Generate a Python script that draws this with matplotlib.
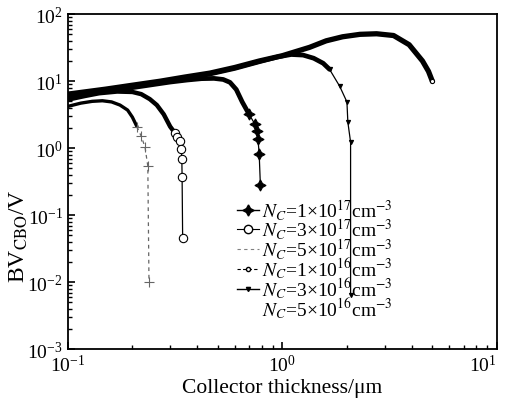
import matplotlib
matplotlib.use("Agg")
import matplotlib.pyplot as plt
from matplotlib.lines import Line2D

# ---- data ----
x_1e16 = [0.1, 0.15, 0.2, 0.27, 0.35, 0.46, 0.6, 0.78, 1.0, 1.34, 1.6, 1.91, 2.3, 2.75, 3.3, 3.9, 4.5, 4.8, 5.0]
y_1e16 = [6.4, 7.6, 8.7, 10.0, 11.5, 13.2, 16.0, 20.0, 24.0, 32.0, 40.0, 46.0, 50.0, 51.0, 48.0, 35.0, 20.0, 14.0, 10.0]

x_3e16 = [0.1, 0.15, 0.2, 0.27, 0.35, 0.46, 0.6, 0.78, 0.95, 1.1, 1.25, 1.4, 1.55, 1.66, 1.85, 2.0, 2.02, 2.08, 2.08]
y_3e16 = [6.2, 7.3, 8.4, 9.7, 11.0, 12.8, 15.5, 19.5, 23.0, 25.0, 24.5, 22.0, 18.5, 15.0, 8.4, 4.9, 2.44, 1.23, 0.0065]

x_1e17 = [0.1, 0.15, 0.2, 0.25, 0.3, 0.36, 0.42, 0.48, 0.53, 0.57, 0.61, 0.65, 0.70, 0.745, 0.76, 0.77, 0.78, 0.79]
y_1e17 = [5.9, 7.0, 8.0, 8.9, 9.7, 10.4, 10.9, 11.0, 10.6, 9.6, 7.5, 4.9, 3.2, 2.28, 1.8, 1.36, 0.81, 0.28]

x_3e17 = [0.1, 0.12, 0.14, 0.17, 0.2, 0.22, 0.241, 0.26, 0.28, 0.30, 0.315, 0.322, 0.333, 0.338, 0.34, 0.341, 0.343]
y_3e17 = [5.3, 6.0, 6.6, 7.0, 6.9, 6.4, 5.4, 4.4, 3.2, 2.1, 1.7, 1.46, 1.27, 0.97, 0.69, 0.37, 0.045]

x_5e17 = [0.1, 0.115, 0.13, 0.145, 0.16, 0.175, 0.19, 0.2, 0.21, 0.22, 0.229, 0.236, 0.239]
y_5e17 = [4.2, 4.7, 5.0, 5.1, 4.9, 4.4, 3.7, 2.9, 2.1, 1.5, 1.04, 0.54, 0.01]

labels = [r"$N_C$=1×10$^{17}$cm$^{-3}$",
          r"$N_C$=3×10$^{17}$cm$^{-3}$",
          r"$N_C$=5×10$^{17}$cm$^{-3}$",
          r"$N_C$=1×10$^{16}$cm$^{-3}$",
          r"$N_C$=3×10$^{16}$cm$^{-3}$",
          r"$N_C$=5×10$^{16}$cm$^{-3}$"]

plt.rcParams["font.family"] = ["Liberation Serif", "DejaVu Serif"]
plt.rcParams["mathtext.fontset"] = "stix"

fig = plt.figure(figsize=(5.06, 4.10), dpi=100)
ax = fig.add_axes([0.134, 0.146, 0.848, 0.817])

star = (4, 1, 0)
# (x, y, body_end_index, body_lw, tail_ls, tail_color, tail_marker, marker_size, mfc)
curves = [
    (x_1e16, y_1e16, 19, 3.8, "--", "k", "o", 3, "white"),
    (x_3e16, y_3e16, 14, 3.4, "-", "k", "v", 3, "k"),
    (x_1e17, y_1e17, 13, 3.4, "-", "k", star, 8, "k"),
    (x_3e17, y_3e17, 11, 3.2, "-", "k", "o", 6, "white"),
    (x_5e17, y_5e17, 9, 2.4, (0, (3, 3)), "0.4", "+", 7, "0.4"),
]
for xs, ys, k, blw, tls, tc, mk, ms, mfc in curves:
    ax.plot(xs[:k], ys[:k], color="k", lw=blw, solid_capstyle="round", zorder=3)
    ax.plot(xs[k - 1:], ys[k - 1:], color=tc, lw=0.9, ls=tls, marker=mk, ms=ms,
            mfc=mfc, mec=tc, mew=0.8, zorder=4)

ax.set_xscale("log")
ax.set_yscale("log")
ax.set_xlim(0.1, 10)
ax.set_ylim(1e-3, 1e2)

for s in ax.spines.values():
    s.set_linewidth(1.3)
ax.tick_params(which="both", direction="in", top=False, right=False, labelsize=14)
ax.tick_params(which="major", length=5, width=1.2)
ax.tick_params(which="minor", length=3, width=1.0)

ax.set_xlabel("Collector thickness/μm", fontsize=15.5, labelpad=2)
ax.set_ylabel(r"BV$_{\rm CBO}$/V", fontsize=17)
ax.yaxis.set_label_coords(-0.088, 0.34)

fig.canvas.draw()
for t in ax.get_xticklabels():
    if t.get_position()[0] >= 9.99:
        t.set_horizontalalignment("right")

handles = [
    Line2D([], [], color="k", lw=1.0, marker=star, ms=8, mfc="k"),
    Line2D([], [], color="k", lw=0.8, marker="o", ms=6, mfc="white"),
    Line2D([], [], color="0.5", lw=0.8, ls=(0, (3, 3))),
    Line2D([], [], color="k", lw=0.8, ls=(0, (3, 2)), marker="o", ms=3, mfc="white"),
    Line2D([], [], color="k", lw=1.0, marker="v", ms=3, mfc="k"),
    Line2D([], [], color="none", lw=0),
]
ax.legend(handles, labels, loc="upper left", bbox_to_anchor=(0.363, 0.495),
          frameon=False, fontsize=14, handlelength=1.1, handletextpad=0.2,
          labelspacing=-0.26, borderpad=0.2)

fig.savefig("out.png", dpi=100)
